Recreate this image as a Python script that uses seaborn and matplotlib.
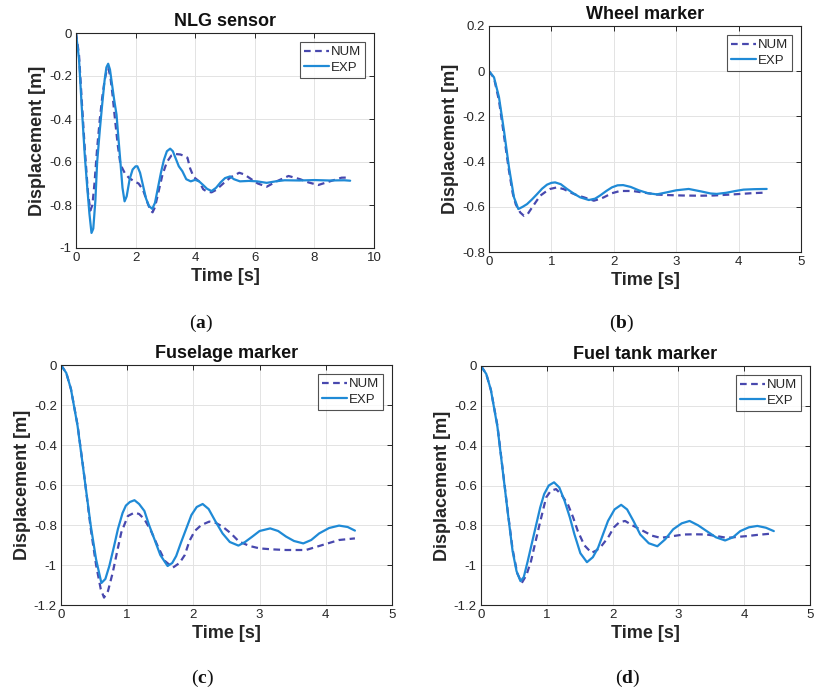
import numpy as np
import pandas as pd
import matplotlib
matplotlib.use("Agg")
import matplotlib.pyplot as plt
import seaborn as sns

# ---------------- data ----------------
titles = ["NLG sensor", "Wheel marker", "Fuselage marker", "Fuel tank marker"]
captions = ["a", "b", "c", "d"]
series_names = ["NUM", "EXP"]

# (a) NLG sensor
a_exp_t = [0, 0.1, 0.2, 0.3, 0.37, 0.45, 0.52, 0.58, 0.65, 0.71, 0.8, 0.88, 0.96, 1.02, 1.08, 1.14, 1.21, 1.28,
           1.36, 1.43, 1.49, 1.56, 1.63, 1.7, 1.8, 1.9, 2.0, 2.06, 2.15, 2.25, 2.35, 2.45, 2.56, 2.65, 2.75, 2.85,
           2.95, 3.05, 3.16, 3.25, 3.35, 3.45, 3.57, 3.7, 3.85, 4.0, 4.13, 4.25, 4.4, 4.55, 4.7, 4.85, 5.0, 5.17,
           5.3, 5.5, 5.8, 6.07, 6.4, 6.7, 7.0, 7.5, 8.0, 8.5, 9.0, 9.2]
a_exp_y = [0, -0.12, -0.36, -0.58, -0.705, -0.84, -0.93, -0.91, -0.78, -0.6, -0.45, -0.33, -0.22, -0.16, -0.143,
           -0.17, -0.24, -0.31, -0.38, -0.5, -0.6, -0.72, -0.783, -0.76, -0.68, -0.635, -0.62, -0.62, -0.65, -0.71,
           -0.77, -0.805, -0.818, -0.79, -0.72, -0.65, -0.59, -0.55, -0.538, -0.55, -0.585, -0.62, -0.643, -0.68,
           -0.69, -0.683, -0.69, -0.705, -0.725, -0.735, -0.72, -0.695, -0.675, -0.667, -0.68, -0.69, -0.688, -0.69,
           -0.697, -0.69, -0.685, -0.686, -0.684, -0.686, -0.685, -0.687]
a_num_t = [0, 0.1, 0.2, 0.3, 0.4, 0.48, 0.55, 0.62, 0.71, 0.8, 0.88, 0.96, 1.02, 1.08, 1.15, 1.22, 1.3, 1.4, 1.48,
           1.55, 1.65, 1.78, 1.95, 2.1, 2.25, 2.4, 2.5, 2.57, 2.65, 2.75, 2.9, 3.05, 3.2, 3.35, 3.5, 3.6, 3.74, 3.83,
           3.95, 4.13, 4.27, 4.4, 4.55, 4.7, 4.94, 5.2, 5.48, 5.65, 5.84, 6.1, 6.4, 6.73, 7.13, 7.52, 7.8, 8.13,
           8.52, 8.91, 9.2]
a_num_y = [0, -0.1, -0.33, -0.55, -0.74, -0.826, -0.8, -0.7, -0.535, -0.4, -0.3, -0.22, -0.18, -0.163, -0.2, -0.28,
           -0.39, -0.52, -0.6, -0.628, -0.655, -0.674, -0.69, -0.7, -0.73, -0.79, -0.825, -0.834, -0.81, -0.75,
           -0.66, -0.6, -0.57, -0.563, -0.565, -0.57, -0.58, -0.63, -0.67, -0.69, -0.727, -0.738, -0.741, -0.73,
           -0.7, -0.67, -0.65, -0.658, -0.676, -0.7, -0.715, -0.69, -0.665, -0.68, -0.695, -0.707, -0.69, -0.673,
           -0.672]

# (b) Wheel marker
b_exp_t = [0, 0.08, 0.16, 0.24, 0.32, 0.4, 0.47, 0.54, 0.61, 0.69, 0.77, 0.85, 0.93, 1.0, 1.06, 1.15, 1.25, 1.35,
           1.46, 1.6, 1.7, 1.78, 1.88, 1.97, 2.06, 2.15, 2.27, 2.4, 2.55, 2.69, 2.85, 3.0, 3.2, 3.4, 3.55, 3.65,
           3.8, 3.95, 4.08, 4.25, 4.45]
b_exp_y = [0, -0.027, -0.115, -0.263, -0.425, -0.558, -0.61, -0.6, -0.588, -0.567, -0.544, -0.52, -0.502, -0.494,
           -0.492, -0.5, -0.521, -0.54, -0.558, -0.57, -0.564, -0.55, -0.53, -0.514, -0.505, -0.504, -0.512, -0.527,
           -0.54, -0.545, -0.536, -0.527, -0.521, -0.532, -0.541, -0.543, -0.538, -0.53, -0.524, -0.522, -0.521]
b_num_t = [0, 0.08, 0.16, 0.24, 0.32, 0.38, 0.43, 0.5, 0.56, 0.62, 0.69, 0.76, 0.82, 0.9, 0.98, 1.09, 1.2, 1.3,
           1.42, 1.52, 1.68, 1.78, 1.84, 1.97, 2.1, 2.3, 2.5, 2.7, 2.85, 3.1, 3.38, 3.6, 3.92, 4.2, 4.45]
b_num_y = [0, -0.03, -0.13, -0.285, -0.44, -0.54, -0.59, -0.625, -0.64, -0.632, -0.603, -0.575, -0.551, -0.535,
           -0.521, -0.514, -0.522, -0.536, -0.55, -0.558, -0.573, -0.565, -0.558, -0.54, -0.53, -0.53, -0.538,
           -0.546, -0.548, -0.55, -0.551, -0.55, -0.545, -0.54, -0.537]

# (c) Fuselage marker
c_exp_t = [0, 0.08, 0.15, 0.25, 0.35, 0.45, 0.53, 0.61, 0.67, 0.73, 0.8, 0.86, 0.93, 0.98, 1.04, 1.11, 1.18, 1.26,
           1.33, 1.41, 1.5, 1.61, 1.68, 1.74, 1.81, 1.89, 1.97, 2.05, 2.14, 2.23, 2.33, 2.44, 2.55, 2.68, 2.78,
           2.89, 3.0, 3.16, 3.28, 3.4, 3.52, 3.66, 3.78, 3.9, 4.05, 4.2, 4.33, 4.44]
c_exp_y = [0, -0.04, -0.12, -0.304, -0.554, -0.805, -0.972, -1.09, -1.07, -1.005, -0.908, -0.82, -0.74, -0.703,
           -0.685, -0.676, -0.695, -0.73, -0.8, -0.87, -0.95, -1.005, -0.99, -0.955, -0.89, -0.82, -0.75, -0.71,
           -0.695, -0.72, -0.78, -0.842, -0.885, -0.903, -0.885, -0.858, -0.83, -0.817, -0.83, -0.858, -0.88,
           -0.892, -0.875, -0.842, -0.815, -0.803, -0.81, -0.828]
c_num_t = [0, 0.08, 0.15, 0.25, 0.35, 0.45, 0.53, 0.6, 0.65, 0.71, 0.78, 0.85, 0.91, 1.01, 1.11, 1.18, 1.26, 1.36,
           1.46, 1.57, 1.69, 1.79, 1.87, 1.94, 2.02, 2.12, 2.24, 2.34, 2.44, 2.56, 2.69, 2.85, 3.0, 3.2, 3.4, 3.7,
           3.95, 4.2, 4.44]
c_num_y = [0, -0.04, -0.12, -0.3, -0.55, -0.82, -1.0, -1.12, -1.163, -1.13, -1.04, -0.93, -0.838, -0.755, -0.738,
           -0.745, -0.771, -0.83, -0.905, -0.98, -1.013, -0.99, -0.95, -0.88, -0.83, -0.8, -0.783, -0.79, -0.808,
           -0.84, -0.883, -0.905, -0.917, -0.922, -0.925, -0.925, -0.9, -0.875, -0.867]

# (d) Fuel tank marker
d_exp_t = [0, 0.08, 0.15, 0.25, 0.33, 0.41, 0.48, 0.54, 0.6, 0.65, 0.71, 0.78, 0.84, 0.9, 0.96, 1.03, 1.11, 1.19,
           1.27, 1.35, 1.42, 1.51, 1.61, 1.7, 1.78, 1.86, 1.93, 2.03, 2.13, 2.22, 2.32, 2.42, 2.55, 2.68, 2.8, 2.92,
           3.05, 3.17, 3.3, 3.43, 3.57, 3.71, 3.83, 3.94, 4.07, 4.2, 4.33, 4.45]
d_exp_y = [0, -0.04, -0.12, -0.306, -0.525, -0.744, -0.929, -1.03, -1.08, -1.06, -0.98, -0.88, -0.795, -0.71,
           -0.643, -0.6, -0.584, -0.61, -0.677, -0.76, -0.845, -0.94, -0.985, -0.96, -0.912, -0.84, -0.778, -0.72,
           -0.697, -0.72, -0.78, -0.846, -0.89, -0.905, -0.87, -0.82, -0.79, -0.778, -0.8, -0.829, -0.86, -0.876,
           -0.86, -0.829, -0.81, -0.803, -0.812, -0.829]
d_num_t = [0, 0.08, 0.15, 0.25, 0.33, 0.41, 0.48, 0.55, 0.62, 0.69, 0.76, 0.83, 0.89, 0.99, 1.06, 1.14, 1.22, 1.32,
           1.4, 1.47, 1.57, 1.68, 1.76, 1.83, 1.93, 2.02, 2.1, 2.19, 2.3, 2.47, 2.6, 2.73, 2.9, 3.08, 3.25, 3.43,
           3.6, 3.74, 3.9, 4.04, 4.2, 4.4]
d_num_y = [0, -0.04, -0.12, -0.3, -0.52, -0.74, -0.92, -1.04, -1.089, -1.05, -0.98, -0.88, -0.795, -0.66, -0.627,
           -0.618, -0.645, -0.694, -0.76, -0.828, -0.9, -0.938, -0.925, -0.904, -0.862, -0.81, -0.785, -0.778, -0.8,
           -0.829, -0.852, -0.863, -0.855, -0.846, -0.845, -0.846, -0.855, -0.863, -0.858, -0.854, -0.848, -0.842]

# axis ticks
a_xticks = [0, 2, 4, 6, 8, 10]
a_yticks = [-1, -0.8, -0.6, -0.4, -0.2, 0]
b_xticks = [0, 1, 2, 3, 4, 5]
b_yticks = [-0.8, -0.6, -0.4, -0.2, 0, 0.2]
cd_xticks = [0, 1, 2, 3, 4, 5]
cd_yticks = [-1.2, -1, -0.8, -0.6, -0.4, -0.2, 0]

# ---------------- style ----------------
sns.set_theme(style="white")
plt.rcParams["font.family"] = ["Liberation Sans", "DejaVu Sans"]
plt.rcParams["axes.unicode_minus"] = False
plt.rcParams["mathtext.fontset"] = "custom"
plt.rcParams["mathtext.rm"] = "Liberation Serif"
plt.rcParams["mathtext.bf"] = "Liberation Serif:bold"

NUM_COLOR = "#4848ae"
EXP_COLOR = "#1f8ad6"
TXT = "#262626"

fig = plt.figure(figsize=(8.15, 6.93), dpi=100)
W, H = 815, 693
boxes = [(76, 33, 374, 248), (489, 26, 801, 252), (61, 365, 392, 605), (481, 366, 810, 605)]
panels = [
    (a_num_t, a_num_y, a_exp_t, a_exp_y, a_xticks, a_yticks),
    (b_num_t, b_num_y, b_exp_t, b_exp_y, b_xticks, b_yticks),
    (c_num_t, c_num_y, c_exp_t, c_exp_y, cd_xticks, cd_yticks),
    (d_num_t, d_num_y, d_exp_t, d_exp_y, cd_xticks, cd_yticks),
]
cap_pos = [(201, 323), (622, 323), (202, 678), (628, 678)]

for i, (box, pan) in enumerate(zip(boxes, panels)):
    x0, y0, x1, y1 = box
    ax = fig.add_axes([x0 / W, 1 - y1 / H, (x1 - x0) / W, (y1 - y0) / H])
    nt, ny, et, ey, xt, yt = pan
    df = pd.concat([
        pd.DataFrame({"t": nt, "y": ny, "s": "NUM"}),
        pd.DataFrame({"t": et, "y": ey, "s": "EXP"}),
    ], ignore_index=True)
    sns.lineplot(data=df, x="t", y="y", hue="s", style="s", hue_order=series_names,
                 style_order=series_names, palette={"NUM": NUM_COLOR, "EXP": EXP_COLOR},
                 dashes={"NUM": (3.0, 2.0), "EXP": ""}, estimator=None, sort=False,
                 linewidth=1.6, ax=ax)
    ax.set_xlim(xt[0], xt[-1])
    ax.set_ylim(yt[0], yt[-1])
    ax.set_xticks(xt)
    ax.set_xticklabels([f"{v:g}" for v in xt])
    ax.set_yticks(yt)
    ax.set_yticklabels([f"{v:g}" for v in yt])
    ax.tick_params(direction="in", length=3.5, width=0.7, color=TXT, labelsize=9.5,
                   labelcolor=TXT, top=True, right=True, pad=3)
    ax.grid(True, color="#e3e3e3", linewidth=0.7)
    for sp in ax.spines.values():
        sp.set_color(TXT)
        sp.set_linewidth(0.8)
    ax.set_xlabel("Time [s]", fontsize=13, fontweight="bold", color=TXT, labelpad=3)
    ax.set_ylabel("Displacement [m]", fontsize=13, fontweight="bold", color=TXT, labelpad=2)
    ax.set_title(titles[i], fontsize=13, fontweight="bold", color="#111111", pad=5)
    leg = ax.legend(loc="upper right", fontsize=9.5, frameon=True, fancybox=False,
                    handlelength=1.9, handletextpad=0.15, borderpad=0.3, labelspacing=0.25,
                    borderaxespad=0.7)
    leg.get_frame().set_edgecolor(TXT)
    leg.get_frame().set_linewidth(0.8)
    for txt in leg.get_texts():
        txt.set_color(TXT)
    cx, cy = cap_pos[i]
    fig.text(cx / W, 1 - cy / H, r"$(\mathbf{%s})$" % captions[i], ha="center", va="center",
             fontsize=14, color="#111111")

fig.savefig("out.png", dpi=100, facecolor="white")
